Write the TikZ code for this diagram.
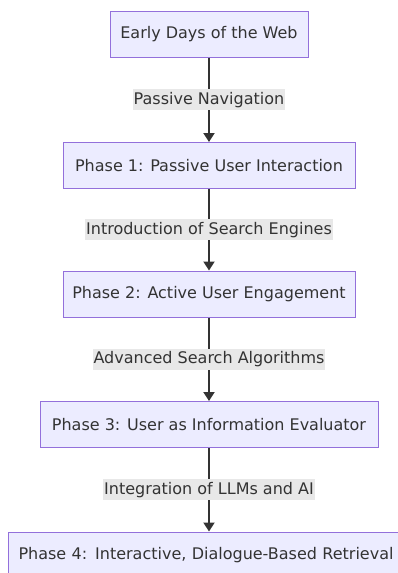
\documentclass[tikz,border=0pt]{standalone}
\usepackage{fontspec}
\setmainfont{DejaVu Sans}
\usetikzlibrary{arrows.meta}
\definecolor{nodefill}{HTML}{ECECFF}
\definecolor{nodeborder}{HTML}{9370DB}
\definecolor{txt}{HTML}{333333}
\definecolor{lblbg}{HTML}{E8E8E8}
\begin{document}
\begin{tikzpicture}[x=1pt,y=-1pt,
  phase/.style={draw=nodeborder,fill=nodefill,line width=1pt,minimum height=46pt,inner sep=0pt,text=txt,font=\fontsize{16}{19}\selectfont},
  lbl/.style={fill=lblbg,inner xsep=1pt,inner ysep=3pt,text=txt,font=\fontsize{16}{19}\selectfont},
  flow/.style={draw=txt,line width=2pt,-{Triangle[length=9pt,width=11pt]}}]
\useasboundingbox (0,0) rectangle (398,573);
\clip (0,0) rectangle (398,573);
\node[phase,minimum width=198pt] (n0) at (209,34) {Early Days of the Web};
\node[phase,minimum width=292pt] (n1) at (209,165.5) {Phase 1: Passive User Interaction};
\node[phase,minimum width=292pt] (n2) at (209,294) {Phase 2: Active User Engagement};
\node[phase,minimum width=338pt] (n3) at (209,424.5) {Phase 3: User as Information Evaluator};
\node[phase,anchor=west,text width=420pt,align=left,inner xsep=10pt] (n4) at (8,555) {Phase 4: Interactive, Dialogue-Based Retrieval};
\draw[flow] (n0) -- (n1) node[pos=0.5,lbl] {Passive Navigation};
\draw[flow] (n1) -- (n2) node[pos=0.5,lbl] {Introduction of Search Engines};
\draw[flow] (n2) -- (n3) node[pos=0.5,lbl] {Advanced Search Algorithms};
\draw[flow] (n3) -- (n3.south |- n4.north) node[pos=0.5,lbl] {Integration of LLMs and AI};
\end{tikzpicture}
\end{document}
